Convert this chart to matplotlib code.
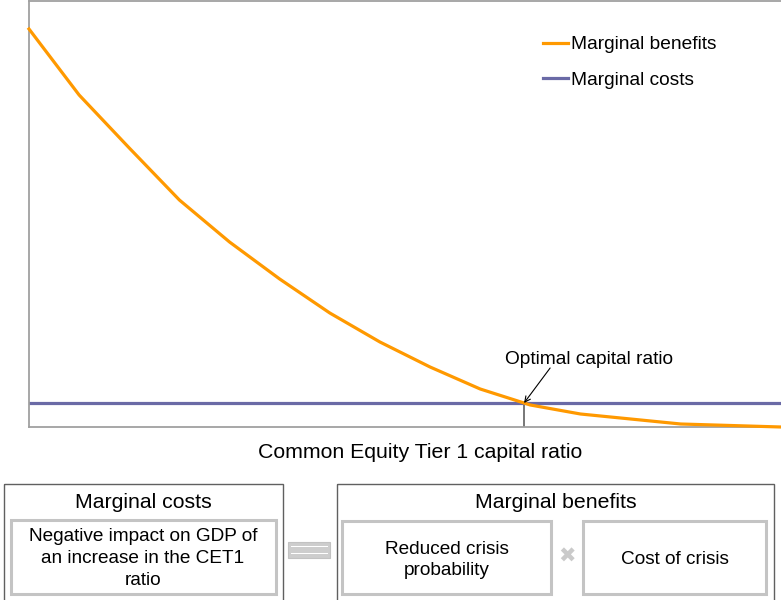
import numpy as np
import matplotlib
matplotlib.use('Agg')
import matplotlib.pyplot as plt
from matplotlib.patches import Rectangle

plt.rcParams['font.family'] = ['Liberation Sans', 'DejaVu Sans']

# ── Data (arbitrary units) ───────────────────────────────────────────────────
capital_ratio = np.arange(16)
marginal_benefits = [398, 332, 279, 227, 185, 148, 114, 85, 60, 38, 22, 13, 8, 3, 1.5, 0]
marginal_costs = 24
series_labels = ['Marginal benefits', 'Marginal costs']

ORANGE = '#FF9900'
SLATE = '#6A6AA6'
SPINE = '#A0A0A0'
LIGHT = '#C4C4C4'
DARK = '#606060'

W, H = 781, 600
fig = plt.figure(figsize=(W / 100, H / 100), dpi=100)

# ── Main chart ────────────────────────────────────────────────────────────────
ax = fig.add_axes([29 / W, 173 / H, 752 / W, 426 / H])
ax.plot(capital_ratio, marginal_benefits, color=ORANGE, lw=2.3,
        label=series_labels[0], solid_joinstyle='round', clip_on=False, zorder=3)
ax.axhline(marginal_costs, color=SLATE, lw=2.3, label=series_labels[1], zorder=2)
ax.set_xlim(capital_ratio[0], capital_ratio[-1])
ax.set_ylim(0, 426)
ax.set_xticks([])
ax.set_yticks([])
for side in ('left', 'top', 'bottom'):
    ax.spines[side].set_color(SPINE)
    ax.spines[side].set_linewidth(1.3)
ax.spines['right'].set_visible(False)

# optimal point: where benefits fall to costs
mb = np.array(marginal_benefits, dtype=float)
k = np.where(mb < marginal_costs)[0][0]
x_opt = capital_ratio[k - 1] + (mb[k - 1] - marginal_costs) / (mb[k - 1] - mb[k])
ax.plot([x_opt, x_opt], [0, marginal_costs - 1], color=DARK, lw=1.2, zorder=1)
ax.text(x_opt + 1.3, 68, 'Optimal capital ratio', ha='center', va='center',
        fontsize=13.8)
ax.annotate('', xy=(x_opt, marginal_costs), xytext=(x_opt + 0.52, 59),
            arrowprops=dict(arrowstyle='->', color='black', lw=0.8,
                            shrinkA=0, shrinkB=0))

leg = ax.legend(loc='upper left', bbox_to_anchor=(543 / W, 1 - 36 / H),
                bbox_transform=fig.transFigure, frameon=False, fontsize=13.8,
                handlelength=1.3, handletextpad=0.15, labelspacing=0.95,
                borderpad=0, borderaxespad=0)

fig.text(420 / W, 1 - 453 / H, 'Common Equity Tier 1 capital ratio',
         ha='center', va='center', fontsize=15.3)

# ── Diagram below ─────────────────────────────────────────────────────────────
ov = fig.add_axes([0, 0, 1, 1])
ov.set_xlim(0, W)
ov.set_ylim(H, 0)
ov.axis('off')


def box(x0, y0, x1, y1, ec, lw):
    ov.add_patch(Rectangle((x0, y0), x1 - x0, y1 - y0, fill=False,
                           ec=ec, lw=lw, clip_on=False))


# outer boxes (run past the bottom edge)
box(4, 484, 283, 605, DARK, 1.0)
box(337, 484, 774, 605, DARK, 1.0)
ov.text(143, 503, 'Marginal costs', ha='center', va='center', fontsize=15.3)
ov.text(556, 503, 'Marginal benefits', ha='center', va='center', fontsize=15.3)

# inner boxes
box(11, 520, 276, 594, LIGHT, 2.2)
box(342, 521, 551, 594, LIGHT, 2.2)
box(583, 521, 766, 594, LIGHT, 2.2)
ov.text(143, 558.5, 'Negative impact on GDP of\nan increase in the CET1\nratio',
        ha='center', va='center', fontsize=13.7, linespacing=1.4)
ov.text(447, 560, 'Reduced crisis\nprobability', ha='center', va='center',
        fontsize=13.7, linespacing=1.3)
ov.text(675, 559, 'Cost of crisis', ha='center', va='center', fontsize=13.7)

# equals sign: gray block with two white stripes
ov.add_patch(Rectangle((288, 542), 42, 16, fc='#CDCDCD', ec='#C2C2C2', lw=0.8))
for y0 in (545.8, 552.8):
    ov.add_patch(Rectangle((290.5, y0), 37, 1.5, fc='white', ec='none'))
# times sign
ov.text(567, 556.5, '✖', ha='center', va='center', fontsize=15,
        color='#CACACA', family='DejaVu Sans')

fig.savefig('out.png', dpi=100)
